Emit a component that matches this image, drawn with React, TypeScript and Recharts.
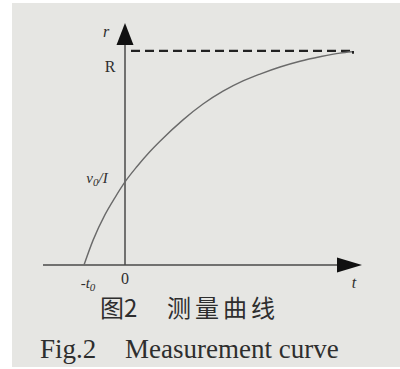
import { LineChart, Line, XAxis, YAxis, ReferenceLine, ReferenceDot } from 'recharts'

const timeValues = [-4.1, -3.2, -2.0, -1.0, 0, 1.2, 2.5, 3.5, 5.8, 7.8, 9.8, 11.8, 13.5, 15.5, 17.5, 19.5, 21.5, 22.7]
const rValues = [0, 11.5, 23.5, 31.5, 38.8, 46.0, 53.0, 57.8, 67.8, 75.2, 81.2, 86.0, 89.2, 92.5, 95.2, 97.3, 99.0, 99.6]
const limitR = 100
const dashStart = 0.6
const dashEnd = 22.8

const captionCn = ['图2', '测量曲线']
const captionEn = ['Fig.2', 'Measurement curve']

const data = timeValues.map((t, i) => ({ t, r: rValues[i] }))

const serif = '"Liberation Serif", "DejaVu Serif", serif'
const ink = '#2e2e2e'

function TextMark(props: any) {
  const { cx, cy, children, italic, size = 15 } = props
  return (
    <text x={cx} y={cy} textAnchor="middle" dominantBaseline="central"
      fontFamily={serif} fontSize={size} fontStyle={italic ? 'italic' : 'normal'} fill={ink}>
      {children}
    </text>
  )
}

function Label({ t, r, children, italic, size }: any) {
  return (
    <ReferenceDot x={t} y={r} ifOverflow="visible"
      shape={(p: any) => <TextMark cx={p.cx} cy={p.cy} italic={italic} size={size}>{children}</TextMark>} />
  )
}

export default function App() {
  return (
    <div style={{ position: 'absolute', left: 0, top: 0, width: 400, height: 369, background: '#fff' }}>
      <div style={{ position: 'absolute', left: 12, top: 3, width: 388, height: 364, background: '#e6e6e3' }} />
      <div style={{ position: 'absolute', left: 0, top: 0 }}>
        <LineChart width={400} height={369} data={data} margin={{ top: 0, right: 0, bottom: 0, left: 0 }}>
          <XAxis dataKey="t" type="number" domain={[-12.5, 27.5]} allowDataOverflow hide />
          <YAxis type="number" domain={[-48.6, 123.8]} allowDataOverflow hide />
          {/* axes */}
          <ReferenceLine segment={[{ x: -8.2, y: 0 }, { x: 22, y: 0 }]} stroke="#4a4a4a" strokeWidth={1.5} ifOverflow="visible" />
          <ReferenceLine segment={[{ x: 0, y: 0 }, { x: 0, y: 104 }]} stroke="#4a4a4a" strokeWidth={1.5} ifOverflow="visible" />
          <ReferenceDot x={23.7} y={0} ifOverflow="visible"
            shape={(p: any) => <path d={`M${p.cx},${p.cy} L${p.cx - 25},${p.cy - 7.5} L${p.cx - 25},${p.cy + 7.5} Z`} fill="#111" />} />
          <ReferenceDot x={0} y={113.1} ifOverflow="visible"
            shape={(p: any) => <path d={`M${p.cx},${p.cy} L${p.cx - 8.5},${p.cy + 22} L${p.cx + 8.5},${p.cy + 22} Z`} fill="#111" />} />
          {/* asymptote R */}
          <ReferenceLine segment={[{ x: dashStart, y: limitR }, { x: dashEnd, y: limitR }]} stroke="#222" strokeWidth={2.2} strokeDasharray="9 5" ifOverflow="visible" />
          <ReferenceLine segment={[{ x: dashEnd, y: limitR }, { x: dashEnd, y: limitR - 1.3 }]} stroke="#222" strokeWidth={2} ifOverflow="visible" />
          <Line type="monotone" dataKey="r" stroke="#6a6a6a" strokeWidth={1.4} dot={false} isAnimationActive={false} />
          <Label t={-1.9} r={108.9} italic size={16}>r</Label>
          <Label t={-1.5} r={92.5} size={16}>R</Label>
          <Label t={-2.8} r={40.7} italic size={15}>
            v<tspan fontSize={11} dy={4}>0</tspan><tspan dy={-4}>/I</tspan>
          </Label>
          <Label t={-3.7} r={-8.4} italic size={15}>
            -t<tspan fontSize={11} dy={4}>0</tspan>
          </Label>
          <Label t={0} r={-6.1} size={16}>0</Label>
          <Label t={22.9} r={-8.4} italic size={16}>t</Label>
        </LineChart>
      </div>
      <svg width={400} height={369} style={{ position: 'absolute', left: 0, top: 0 }}>
        <text x={100} y={317} fontFamily={'"Noto Sans CJK SC", sans-serif'} fontSize={24} fill={ink}>{captionCn[0]}</text>
        <text x={167} y={317} fontFamily={'"Noto Sans CJK SC", sans-serif'} fontSize={24} letterSpacing={4} fill={ink}>{captionCn[1]}</text>
        <text x={40} y={358} fontFamily={serif} fontSize={27} fill={ink}>{captionEn[0]}</text>
        <text x={125} y={358} fontFamily={serif} fontSize={27} fill={ink}>{captionEn[1]}</text>
      </svg>
    </div>
  )
}
